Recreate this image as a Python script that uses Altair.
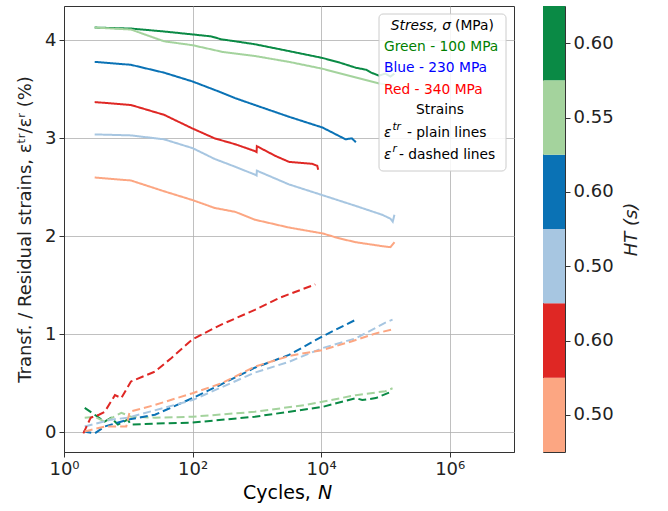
import altair as alt
import pandas as pd

# ---- data ----
series_ids = ["g60", "g55", "b60", "b50", "r60", "r50"]
series_colors = ["#0a8a45", "#a4d39d", "#0a72b5", "#a7c6e1", "#df2724", "#fca682"]

# transformation strains (solid lines)
tr_N = {
    "g60": [3, 11, 36, 100, 195, 280, 460, 930, 3160, 10500, 20000, 34700, 50000, 60000, 79400, 100000, 120000, 138000],
    "g55": [3, 11, 36, 100, 300, 930, 3160, 10500, 34700, 79400, 138000],
    "b60": [3, 11, 36, 100, 250, 460, 930, 3160, 10500, 24000, 30000, 34700],
    "b50": [3, 11, 36, 100, 220, 460, 930, 990, 1000, 3160, 10500, 34700, 89100, 120000, 130000, 138000],
    "r60": [3, 11, 36, 100, 220, 460, 930, 990, 1000, 1950, 3160, 7240, 8700, 9000],
    "r50": [3, 11, 36, 100, 220, 460, 930, 3160, 10500, 19000, 34700, 89100, 120000, 138000],
}
tr_val = {
    "g60": [4.13, 4.12, 4.09, 4.06, 4.04, 4.01, 3.99, 3.96, 3.89, 3.82, 3.77, 3.72, 3.70, 3.67, 3.64, 3.66, 3.63, 3.66],
    "g55": [4.13, 4.11, 3.99, 3.95, 3.88, 3.84, 3.78, 3.71, 3.62, 3.56, 3.54],
    "b60": [3.78, 3.75, 3.67, 3.58, 3.48, 3.41, 3.34, 3.22, 3.11, 2.99, 3.00, 2.96],
    "b50": [3.04, 3.03, 2.99, 2.90, 2.79, 2.71, 2.63, 2.62, 2.67, 2.53, 2.42, 2.31, 2.22, 2.18, 2.15, 2.22],
    "r60": [3.37, 3.34, 3.24, 3.10, 3.00, 2.94, 2.87, 2.86, 2.92, 2.82, 2.76, 2.74, 2.72, 2.68],
    "r50": [2.60, 2.57, 2.46, 2.37, 2.29, 2.25, 2.17, 2.09, 2.03, 1.98, 1.94, 1.90, 1.89, 1.94],
}
# residual strains (dashed lines)
r_N = {
    "g60": [2.1, 3, 4.3, 5.4, 6.9, 9.8, 11, 26, 100, 930, 10500, 34700, 43600, 70800, 129000],
    "g55": [2.1, 3, 4.3, 7.8, 11, 26, 100, 930, 5750, 34700, 100000, 129000],
    "b60": [2, 3, 4.3, 9.8, 26, 100, 280, 930, 3160, 10500, 34700],
    "b50": [2.1, 5.4, 9.8, 100, 930, 3160, 10500, 34700, 100000, 129000],
    "r60": [2, 2.6, 3.5, 4.3, 6.2, 7.8, 11, 26, 47, 100, 280, 930, 2200, 8100],
    "r50": [2.1, 4.3, 9.3, 10.5, 26, 100, 280, 930, 3160, 10500, 30200, 70800, 129000],
}
r_val = {
    "g60": [0.25, 0.18, 0.11, 0.15, 0.08, 0.13, 0.08, 0.09, 0.10, 0.16, 0.26, 0.35, 0.33, 0.35, 0.42],
    "g55": [0.15, 0.16, 0.11, 0.20, 0.16, 0.15, 0.16, 0.21, 0.28, 0.38, 0.42, 0.45],
    "b60": [0.01, -0.01, 0.06, 0.13, 0.18, 0.35, 0.49, 0.66, 0.79, 0.98, 1.15],
    "b50": [0.06, 0.13, 0.15, 0.33, 0.61, 0.72, 0.86, 0.96, 1.12, 1.15],
    "r60": [-0.01, 0.15, 0.18, 0.21, 0.38, 0.35, 0.52, 0.62, 0.76, 0.95, 1.10, 1.25, 1.37, 1.51],
    "r50": [0.01, 0.06, 0.06, 0.21, 0.28, 0.40, 0.50, 0.67, 0.78, 0.84, 0.93, 1.01, 1.05],
}

x_ticks = [1, 100, 10000, 1000000]
y_ticks = [0, 1, 2, 3, 4]

legend_header = ["Stress, σ", "(MPa)"]
legend_lines = ["Green - 100 MPa", "Blue - 230 MPa", "Red - 340 MPa"]
legend_line_colors = ["#008000", "#0000ff", "#ff0000"]
legend_strains_title = "Strains"
legend_symbol = "ε"
legend_sups = ["tr", "r"]
legend_descr = ["- plain lines", "- dashed lines"]

cbar_labels = ["0.50", "0.60", "0.50", "0.60", "0.55", "0.60"]
cbar_bands = ["c0", "c1", "c2", "c3", "c4", "c5"]
cbar_colors = ["#fca682", "#df2724", "#a7c6e1", "#0a72b5", "#a4d39d", "#0a8a45"]

FONT = "DejaVu Sans"
LFS = 13.8

rows = []
for s in series_ids:
    for n, v in zip(r_N[s], r_val[s]):
        rows.append({"series": s, "kind": "r", "key": s + "_r", "N": n, "val": v})
for s in series_ids:
    for n, v in zip(tr_N[s], tr_val[s]):
        rows.append({"series": s, "kind": "tr", "key": s + "_tr", "N": n, "val": v})
df = pd.DataFrame(rows)

W, H = 450, 446

lines = alt.Chart(df).mark_line(strokeWidth=2, clip=True).encode(
    x=alt.X("N:Q",
            scale=alt.Scale(type="log", domain=[1, 1e7], nice=False),
            axis=alt.Axis(values=x_ticks, title=None, labelFlush=False,
                          labelExpr="'10' + ['⁰','¹','²','³','⁴','⁵','⁶','⁷'][round(log(datum.value)/LN10)]",
                          labelFontSize=18, labelPadding=3, tickSize=5,
                          gridColor="#b0b0b0", gridWidth=0.8, labelFont=FONT)),
    y=alt.Y("val:Q",
            scale=alt.Scale(domain=[-0.2, 4.35], nice=False, zero=False),
            axis=alt.Axis(values=y_ticks, format="d",
                          title="Transf. / Residual strains, εᵗʳ/εʳ  (%)",
                          titleFontSize=18, titleFontWeight="normal", titleFont=FONT,
                          titlePadding=10, labelFontSize=18, labelPadding=3, tickSize=5,
                          gridColor="#b0b0b0", gridWidth=0.8, labelFont=FONT)),
    color=alt.Color("series:N", scale=alt.Scale(domain=series_ids, range=series_colors), legend=None),
    strokeDash=alt.StrokeDash("kind:N", scale=alt.Scale(domain=["tr", "r"], range=[[1, 0], [8, 4]]), legend=None),
    detail="key:N",
    order=alt.Order("N:Q"),
)


def txt(t, x, y, size=LFS, align="left", style="normal", color="black", baseline="middle"):
    return alt.Chart(pd.DataFrame({"t": [t]})).mark_text(
        fontSize=size, font=FONT, fontStyle=style, align=align, baseline=baseline, color=color
    ).encode(text="t:N", x=alt.value(x), y=alt.value(y))


# x-axis title (Cycles, N) with italic N
xt1 = txt("Cycles,", 179, 493, size=19, baseline="alphabetic")
xt2 = txt("N", 254, 493, size=19, style="italic", baseline="alphabetic")

# legend box
box = alt.Chart(pd.DataFrame({"a": [0]})).mark_rect(
    fill="white", fillOpacity=0.85, stroke="#cccccc", strokeWidth=1, cornerRadius=4).encode(
    x=alt.value(315), x2=alt.value(442), y=alt.value(8), y2=alt.value(165))

leg = [
    txt(legend_header[0], 387, 20, align="right", style="italic"),
    txt(legend_header[1], 391, 20),
]
for i, (t, c) in enumerate(zip(legend_lines, legend_line_colors)):
    leg.append(txt(t, 320, 41 + 21.3 * i, color=c))
leg.append(txt(legend_strains_title, 376, 103.5, align="center"))
for i, (sup, d) in enumerate(zip(legend_sups, legend_descr)):
    yy = 127 + 22 * i
    leg.append(txt(legend_symbol, 320, yy, style="italic"))
    leg.append(txt(sup, 328.5, yy - 6, size=10.5, style="italic"))
    leg.append(txt(d, 343 if sup == "tr" else 335, yy))

main = alt.layer(lines, xt1, xt2, box, *leg).properties(width=W, height=H)

# colorbar
cdf = pd.DataFrame({"band": cbar_bands, "lo": list(range(6)), "hi": list(range(1, 7))})
cbar = alt.Chart(cdf).mark_rect().encode(
    x=alt.value(0), x2=alt.value(22),
    y=alt.Y("lo:Q", scale=alt.Scale(domain=[0, 6], nice=False),
            axis=alt.Axis(orient="right", values=[0.5, 1.5, 2.5, 3.5, 4.5, 5.5],
                          labelExpr="%s[floor(datum.value)]" % str(cbar_labels),
                          grid=False, domain=False, tickSize=5, labelPadding=3,
                          labelFontSize=18, labelFont=FONT, title="HT (s)",
                          titleFontSize=18, titleFontStyle="italic", titleFontWeight="normal",
                          titleFont=FONT, titleAngle=270, titlePadding=27)),
    y2="hi:Q",
    color=alt.Color("band:N", scale=alt.Scale(domain=cbar_bands, range=cbar_colors), legend=None),
).properties(width=22, height=H)

chart = alt.hconcat(main, cbar, spacing=27).resolve_scale(color="independent").properties(
    padding={"left": 16, "top": 5, "right": 5, "bottom": 5}
).configure_view(stroke="#333333", strokeWidth=1).configure_axis(
    tickColor="#333333", domainColor="#333333", labelColor="#222222", titleColor="#222222"
)

chart.save("out.html", embed_options={"renderer": "svg", "actions": False})
